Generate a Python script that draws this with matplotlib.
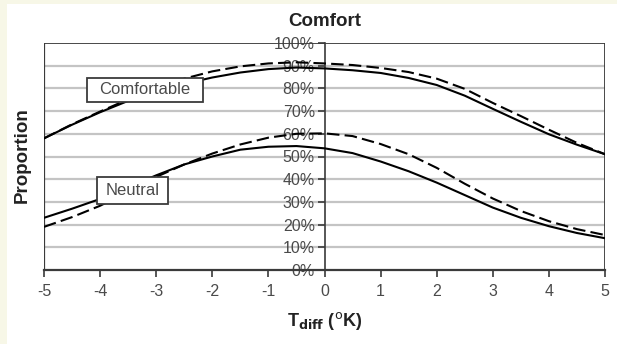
import matplotlib
matplotlib.use("Agg")
import matplotlib.pyplot as plt
from matplotlib.patches import Rectangle

# Temperature difference (K) sampled every half degree
t_diff = [-5, -4.5, -4, -3.5, -3, -2.5, -2, -1.5, -1, -0.5, 0,
          0.5, 1, 1.5, 2, 2.5, 3, 3.5, 4, 4.5, 5]

# Proportion (%) for each group, solid and dashed model curves
comfortable_solid = [58, 64, 69.5, 74.5, 78.5, 82, 84.8, 87, 88.5, 89.2, 88.8,
                     88, 86.8, 84.6, 81.5, 76.8, 71, 65.3, 59.8, 55.2, 51]
comfortable_dashed = [58, 64.2, 69.8, 75.2, 80, 84.3, 87.5, 89.7, 91, 91.5, 91,
                      90.3, 89, 87.2, 84.3, 79.8, 73.6, 67.8, 61.8, 56, 51]
neutral_solid = [23, 27, 31.3, 36.5, 41.7, 46.5, 50, 53, 54.3, 54.6, 53.6,
                 51.5, 47.8, 43.5, 38.5, 33, 27.5, 23, 19.3, 16.3, 14]
neutral_dashed = [19, 23.3, 28.3, 34.5, 41, 46.5, 51.3, 55.3, 58.3, 60, 60.2,
                  59, 55.5, 51, 45, 38, 31.5, 26, 21.5, 18, 15.4]

x_ticks = [-5, -4, -3, -2, -1, 0, 1, 2, 3, 4, 5]
y_ticks = [0, 10, 20, 30, 40, 50, 60, 70, 80, 90, 100]
y_tick_labels = [f"{v}%" for v in y_ticks]

plt.rcParams["font.family"] = ["Liberation Sans", "DejaVu Sans"]

fig = plt.figure(figsize=(6.17, 3.44), dpi=100)
fig.patch.set_facecolor("#f7f7e7")
fig.patches.append(Rectangle((7 / 617, 0), 1 - 7 / 617, 1 - 4 / 344,
                             transform=fig.transFigure, facecolor="white",
                             edgecolor="none", zorder=-1))

ax = fig.add_axes([44 / 617, 74 / 344, 561 / 617, 227 / 344])
ax.set_zorder(2)
ax.set_facecolor("white")
ax.set_xlim(-5, 5)
ax.set_ylim(0, 100)

frame_color = "#3a3a3a"
grid_color = "#c4c4c4"
text_color = "#4a4a4a"

# horizontal grid
for v in y_ticks[1:-1]:
    ax.axhline(v, color=grid_color, lw=1.6, zorder=1)

# outer frame
ax.axhline(100, color=frame_color, lw=1.3, zorder=2)
ax.axvline(-5, color=frame_color, lw=1.6, zorder=2)
ax.axvline(5, color=frame_color, lw=1.3, zorder=2)

for side in ("top", "right"):
    ax.spines[side].set_visible(False)
ax.spines["left"].set_position(("data", 0))
ax.spines["left"].set_color(frame_color)
ax.spines["left"].set_linewidth(1.2)
ax.spines["bottom"].set_color(frame_color)
ax.spines["bottom"].set_linewidth(1.6)

ax.set_xticks(x_ticks)
ax.set_xticklabels([str(v) for v in x_ticks])
ax.set_yticks(y_ticks)
ax.set_yticklabels(y_tick_labels)
ax.tick_params(axis="x", direction="out", length=5, width=1.2, color=frame_color,
               labelsize=11.5, labelcolor=text_color, pad=5)
ax.tick_params(axis="y", direction="out", length=5, width=1.2, color=frame_color,
               labelsize=11.5, labelcolor=text_color, pad=2)

lw = 1.5
ax.plot(t_diff, comfortable_solid, color="black", lw=lw, zorder=4)
ax.plot(t_diff, comfortable_dashed, color="black", lw=lw, dashes=(6, 2.5), zorder=4)
ax.plot(t_diff, neutral_solid, color="black", lw=lw, zorder=4)
ax.plot(t_diff, neutral_dashed, color="black", lw=lw, dashes=(6, 2.5), zorder=4)

# curve labels in framed boxes
label_boxes = [
    ("Comfortable", (-4.234, 74.0), 2.068, 10.6),
    ("Neutral", (-4.055, 29.1), 1.265, 11.9),
]
for text, (bx, by), bw, bh in label_boxes:
    ax.add_patch(Rectangle((bx, by), bw, bh, facecolor="white",
                           edgecolor=frame_color, lw=1.3, zorder=6))
    ax.text(bx + bw / 2, by + bh / 2, text, ha="center", va="center",
            fontsize=12, color=text_color, zorder=7)

fig.text(325 / 617, 1 - 21 / 344, "Comfort", ha="center", va="center",
         fontsize=13.5, fontweight="bold", color="#222222")
fig.text(325 / 617, 1 - 321 / 344, r"T$_{\mathbf{diff}}$ ($^{\mathrm{o}}$K)",
         ha="center", va="center", fontsize=13, fontweight="bold", color="#222222")
fig.text(22 / 617, 1 - 155 / 344, "Proportion", ha="center", va="center",
         rotation=90, fontsize=13.5, fontweight="bold", color="#222222")

fig.savefig("out.png", dpi=100, facecolor=fig.get_facecolor())
